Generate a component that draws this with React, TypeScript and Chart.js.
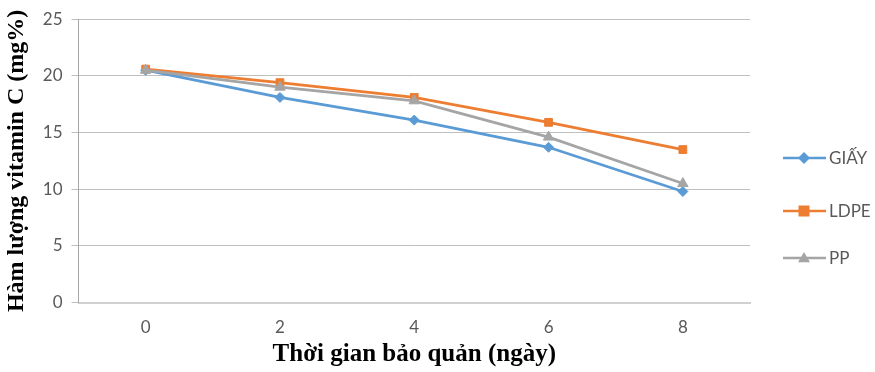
import React, { useEffect, useRef } from "react";
import { Chart, registerables } from "chart.js";

Chart.register(...registerables);

const days = ["0", "2", "4", "6", "8"];
const giay = [20.5, 18.1, 16.1, 13.7, 9.8];
const ldpe = [20.6, 19.4, 18.1, 15.9, 13.5];
const pp = [20.5, 19.0, 17.8, 14.6, 10.5];
const seriesNames = ["GIẤY", "LDPE", "PP"];
const colors = ["#5B9BD5", "#ED7D31", "#A5A5A5"];
const pointStyles = ["rectRot", "rect", "triangle"];
const pointRadii = [5, 5.5, 6];
const yTitle = "Hàm lượng vitamin C (mg%)";
const xTitle = "Thời gian bảo quản (ngày)";

function drawMarker(ctx: CanvasRenderingContext2D, style: string, r: number, x: number, y: number) {
  ctx.beginPath();
  if (style === "rectRot") {
    ctx.moveTo(x, y - r * 1.2);
    ctx.lineTo(x + r * 1.2, y);
    ctx.lineTo(x, y + r * 1.2);
    ctx.lineTo(x - r * 1.2, y);
  } else if (style === "rect") {
    ctx.rect(x - r, y - r, 2 * r, 2 * r);
  } else {
    ctx.moveTo(x, y - r);
    ctx.lineTo(x + r, y + r * 0.7);
    ctx.lineTo(x - r, y + r * 0.7);
  }
  ctx.closePath();
  ctx.fill();
}

const legendPlugin = {
  id: "customLegend",
  afterDraw(chart: any) {
    const ctx = chart.ctx;
    const ys = [158, 211, 258];
    ctx.save();
    for (let i = 0; i < 3; i++) {
      const y = ys[i];
      ctx.strokeStyle = colors[i];
      ctx.lineWidth = 2.5;
      ctx.beginPath();
      ctx.moveTo(783, y);
      ctx.lineTo(826, y);
      ctx.stroke();
      ctx.fillStyle = colors[i];
      drawMarker(ctx, pointStyles[i], pointRadii[i], 804, y);
      ctx.fillStyle = "#595959";
      ctx.font = "17px Lato, 'Open Sans', sans-serif";
      ctx.textBaseline = "middle";
      ctx.textAlign = "left";
      ctx.fillText(seriesNames[i], 829, y + 1);
    }
    ctx.restore();
  },
};

export default function App() {
  const ref = useRef<HTMLCanvasElement>(null);
  useEffect(() => {
    document.body.style.margin = "0";
    const data = [giay, ldpe, pp];
    const chart = new Chart(ref.current!, {
      type: "line",
      data: {
        labels: days,
        datasets: data.map((d, i) => ({
          label: seriesNames[i],
          data: d,
          borderColor: colors[i],
          backgroundColor: colors[i],
          borderWidth: 2.75,
          pointStyle: pointStyles[i] as any,
          pointRadius: pointRadii[i],
          pointBorderWidth: 1,
          tension: 0,
          order: 2 - i,
        })),
      },
      options: {
        animation: false,
        responsive: false,
        layout: { padding: { left: 2, right: 125, top: -2, bottom: 2 } },
        plugins: { legend: { display: false }, tooltip: { enabled: false } },
        scales: {
          x: {
            offset: true,
            grid: { display: false, drawTicks: false },
            border: { color: "#D0D0D0", width: 2 },
            ticks: { color: "#595959", font: { family: "Lato, 'Open Sans', sans-serif", size: 17 }, padding: 15 },
            title: {
              display: true,
              text: xTitle,
              color: "#000",
              font: { family: "'Liberation Serif', 'Times New Roman', serif", size: 25, weight: "bold" },
              padding: { top: -13, bottom: 0 },
            },
          },
          y: {
            min: 0,
            max: 25,
            ticks: { stepSize: 5, color: "#595959", font: { family: "Lato, 'Open Sans', sans-serif", size: 17 }, padding: 9 },
            grid: { color: "#BFBFBF", lineWidth: 1, tickLength: 7, drawTicks: true },
            border: { color: "#A6A6A6", width: 1 },
            title: {
              display: true,
              text: yTitle,
              color: "#000",
              font: { family: "'Liberation Serif', 'Times New Roman', serif", size: 24, weight: "bold" },
              padding: { top: 0, bottom: 3 },
            },
          },
        },
      },
      plugins: [legendPlugin],
    });
    return () => chart.destroy();
  }, []);
  return (
    <div style={{ width: 875, height: 372 }}>
      <canvas ref={ref} width={875} height={372} />
    </div>
  );
}
